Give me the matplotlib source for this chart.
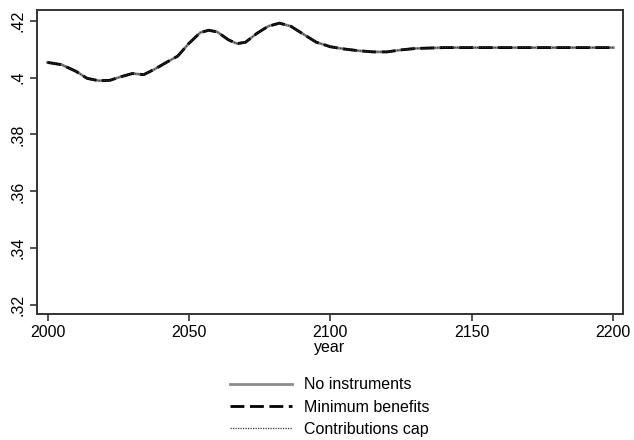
import matplotlib
matplotlib.use("Agg")
import matplotlib.pyplot as plt
from matplotlib.ticker import FuncFormatter

plt.rcParams['font.family'] = ['Liberation Sans', 'DejaVu Sans']

# simulated series (years are uneven near the turning points)
years = [2000, 2005, 2010, 2014, 2018, 2022, 2026, 2030, 2034, 2038,
         2042, 2046, 2050, 2054, 2057, 2060, 2064, 2067, 2070, 2074,
         2078, 2082, 2086, 2090, 2095, 2100, 2105, 2110, 2115, 2120,
         2125, 2130, 2140, 2150, 2160, 2170, 2180, 2190, 2200]

no_instruments = [.4053, .4045, .4022, .3997, .3989, .3990, .4003, .4014, .4010, .4030,
                  .4053, .4075, .4120, .4158, .4166, .4160, .4132, .4119, .4124, .4155,
                  .4180, .4191, .4180, .4155, .4124, .4108, .4100, .4094, .4090, .4090,
                  .4097, .4102, .4105, .4105, .4105, .4105, .4105, .4105, .4105]
minimum_benefits = list(no_instruments)
contributions_cap = list(no_instruments)

fig = plt.figure(figsize=(6.34, 4.4), dpi=100)
ax = fig.add_axes([0.058, 0.2875, 0.925, 0.69])

ax.plot(years, no_instruments, color='#8c8c8c', lw=2.0, label='No instruments')
ax.plot(years, minimum_benefits, color='black', lw=2.0, dashes=(5, 2), label='Minimum benefits')
ax.plot(years, contributions_cap, color='#333333', lw=0.9, dashes=(1, 1), label='Contributions cap')

ax.set_xlim(1996.2, 2203.5)
ax.set_ylim(0.3171, 0.42375)
ax.set_xticks([2000, 2050, 2100, 2150, 2200])
ax.set_yticks([.32, .34, .36, .38, .40, .42])
ax.yaxis.set_major_formatter(FuncFormatter(lambda v, p: ('%g' % round(v, 2)).lstrip('0')))
for lbl in ax.get_yticklabels():
    lbl.set_rotation(90)
    lbl.set_va('center')
ax.tick_params(direction='out', length=5, width=1.2, color='#333333', labelsize=11.5, pad=3)
ax.set_xlabel('year', fontsize=11.5, labelpad=0)
for s in ax.spines.values():
    s.set_linewidth(1.4)
    s.set_color('#333333')

fig.legend(loc='center', bbox_to_anchor=(0.52, 0.075), frameon=False, fontsize=11.5,
           handlelength=3.9, labelspacing=0.45, handletextpad=0.7)

fig.savefig('out.png', dpi=100)
